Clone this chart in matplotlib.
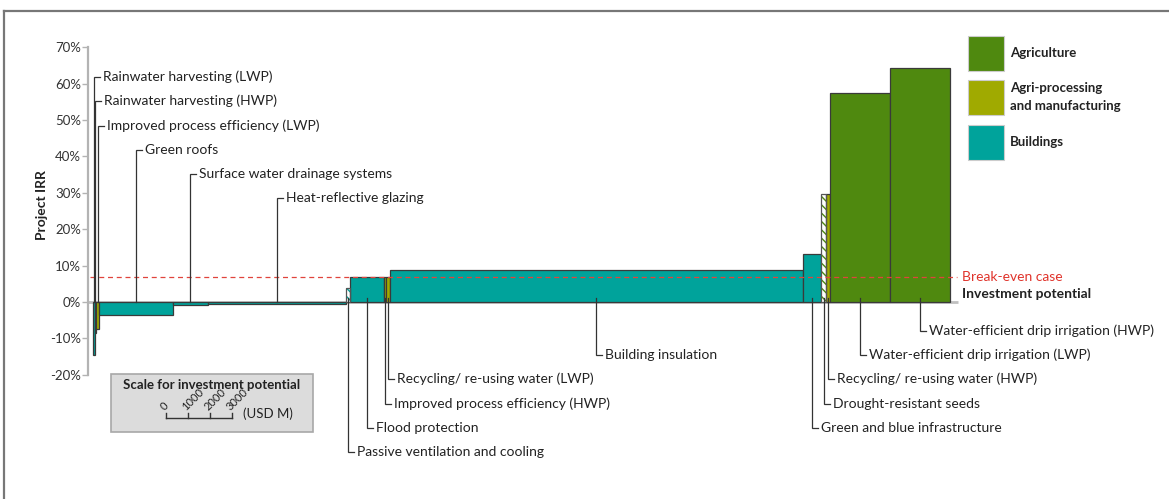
import numpy as np
import matplotlib
matplotlib.use('Agg')
import matplotlib.pyplot as plt
from matplotlib.patches import Rectangle
from matplotlib.lines import Line2D

plt.rcParams['font.family'] = ['Lato', 'DejaVu Sans']

# ------------------------------------------------------------
# Data
# ------------------------------------------------------------
measures = ['Rainwater harvesting (LWP)', 'Rainwater harvesting (HWP)',
            'Improved process efficiency (LWP)', 'Green roofs',
            'Surface water drainage systems', 'Heat-reflective glazing',
            'Passive ventilation and cooling', 'Flood protection',
            'Improved process efficiency (HWP)', 'Recycling/ re-using water (LWP)',
            'Building insulation', 'Green and blue infrastructure',
            'Drought-resistant seeds', 'Recycling/ re-using water (HWP)',
            'Water-efficient drip irrigation (LWP)', 'Water-efficient drip irrigation (HWP)']
invest = [70, 70, 130, 3350, 1600, 6270, 210, 1510, 115, 160,
          18770, 850, 210, 180, 2730, 2745]          # USD M
irr = [-14.5, -8.5, -7.5, -3.5, -0.9, -0.5, 3.8, 6.8, 6.8, 6.8,
       8.7, 13.2, 29.7, 29.7, 57.5, 64.3]            # %
sector = ['Buildings', 'Buildings', 'Agri', 'Buildings', 'Buildings', 'Buildings',
          'Buildings', 'Buildings', 'Agri', 'Agri', 'Buildings', 'Buildings',
          'Agriculture', 'Agri', 'Agriculture', 'Agriculture']
hatched = [False] * 6 + [True] + [False] * 5 + [True] + [False] * 3
label_y = [61.8, 55.2, 48.4, 41.8, 35.2, 28.6, -41.2, -34.6, -28.0, -21.2,
           -14.6, -34.6, -28.0, -21.2, -14.6, -8.0]

break_even = 7.0
y_ticks = [-20, -10, 0, 10, 20, 30, 40, 50, 60, 70]
scale_ticks = [0, 1000, 2000, 3000]

colors = {'Agriculture': '#4f890f', 'Agri': '#a0aa00', 'Buildings': '#00a39b'}
legend_names = [('Agriculture', 'Agriculture'),
                ('Agri', 'Agri-processing\nand manufacturing'),
                ('Buildings', 'Buildings')]

# pixel helpers: 22 px per 1000 USD M, first bar at x=93 px, 0% at y=302 px
W, H = 1169, 499
k = 1000 / 22.0
px_per_pct = 3.64

fig = plt.figure(figsize=(W / 100, H / 100), dpi=100)
ax_left, ax_right = 20, 1160
y_lo, y_hi = -45, 75
ax = fig.add_axes([ax_left / W, (H - (302 - y_lo * px_per_pct)) / H,
                   (ax_right - ax_left) / W, (y_hi - y_lo) * px_per_pct / H])
ax.set_xlim((ax_left - 93) * k, (ax_right - 93) * k)
ax.set_ylim(y_lo, y_hi)
for s in ['top', 'right', 'bottom']:
    ax.spines[s].set_visible(False)
ax.spines['left'].set_position(('data', (88 - 93) * k))
ax.spines['left'].set_bounds(-20, 70)
ax.spines['left'].set_color('#b3b3b3')
ax.spines['left'].set_linewidth(1.6)
ax.set_xticks([])
ax.set_yticks(y_ticks)
ax.set_yticklabels([f'{t}%' for t in y_ticks], fontsize=9.5, color='#333333')
ax.tick_params(axis='y', length=4, width=1, color='#b3b3b3', pad=1)
ax.patch.set_alpha(0)

fig.text(42 / W, 1 - 205 / H, 'Project IRR', rotation=90, ha='center', va='center',
         fontsize=10, fontweight='bold', color='#222222')

# baseline
x_end = sum(invest)
ax.plot([(88 - 93) * k, x_end + 8 * k], [0, 0], color='#c0c0c0', lw=2, zorder=1,
        solid_capstyle='butt')

# bars
lefts = np.concatenate([[0], np.cumsum(invest)[:-1]])
for i in range(len(measures)):
    c = colors[sector[i]]
    if hatched[i]:
        ax.bar(lefts[i], irr[i], width=invest[i], align='edge', color='white',
               edgecolor=c, hatch='\\\\\\\\', lw=0, zorder=2)
        ax.bar(lefts[i], irr[i], width=invest[i], align='edge', fill=False,
               edgecolor='#555555', lw=0.9, zorder=3)
    else:
        ax.bar(lefts[i], irr[i], width=invest[i], align='edge', color=c,
               edgecolor='#3a3a3a', lw=0.9, zorder=2)

# break-even line
ax.plot([(90 - 93) * k, (957 - 93) * k], [break_even, break_even], color='#e0443c',
        lw=0.9, ls=(0, (4, 3)), zorder=4)
ax.text((962 - 93) * k, break_even, 'Break-even case', color='#e0332b', fontsize=10,
        va='center', ha='left')
ax.text((962 - 93) * k, 2.3, 'Investment potential', color='#222222', fontsize=10,
        fontweight='bold', va='center', ha='left')

# leader labels
stub = 6 * k
for i, name in enumerate(measures):
    xc = lefts[i] + invest[i] / 2
    y0 = 0 if irr[i] < 0 else 1.0
    ax.plot([xc, xc, xc + stub], [y0, label_y[i], label_y[i]], color='#333333',
            lw=0.9, zorder=5, solid_joinstyle='miter')
    ax.text(xc + 9 * k, label_y[i], name, fontsize=10, va='center', ha='left',
            color='#222222')

# scale box
bx0, bx1 = (111 - 93) * k, (313 - 93) * k
by0, by1 = (302 - 432) / px_per_pct, (302 - 374) / px_per_pct
ax.add_patch(Rectangle((bx0, by0), bx1 - bx0, by1 - by0, facecolor='#dcdcdc',
                       edgecolor='#a8a8a8', lw=1.2, zorder=2))
ax.text((bx0 + bx1) / 2, (302 - 385) / px_per_pct, 'Scale for investment potential',
        ha='center', va='center', fontsize=9.5, fontweight='bold', color='#222222')
s0 = (166 - 93) * k
sy = (302 - 418) / px_per_pct
ax.plot([s0 + scale_ticks[0], s0 + scale_ticks[-1]], [sy, sy], color='#333333', lw=1, zorder=3)
for t in scale_ticks:
    ax.plot([s0 + t, s0 + t], [sy, sy + 1.4], color='#333333', lw=1, zorder=3)
    ax.text(s0 + t - 20, sy + 1.5, f'{t}', rotation=45, ha='left', va='bottom',
            fontsize=8, color='#222222', rotation_mode='anchor')
ax.text(s0 + scale_ticks[-1] + 500, sy + 1.3, '(USD M)', ha='left', va='center',
        fontsize=9.5, color='#222222')

# legend
leg_y = [36, 80, 125]
for (key, txt), ly in zip(legend_names, leg_y):
    fig.add_artist(Rectangle((968 / W, 1 - (ly + 35) / H), 36 / W, 35 / H,
                             transform=fig.transFigure, facecolor=colors[key],
                             edgecolor='#cccccc', lw=0.8))
    fig.text(1010 / W, 1 - (ly + 17) / H, txt, ha='left', va='center', fontsize=9.5,
             fontweight='bold', color='#222222', linespacing=1.5)

# outer frame
fig.add_artist(Line2D([4 / W, 1], [1 - 11 / H, 1 - 11 / H], transform=fig.transFigure,
                      color='#777777', lw=1.6))
fig.add_artist(Line2D([4 / W, 4 / W], [0, 1 - 11 / H], transform=fig.transFigure,
                      color='#777777', lw=1.6))

plt.savefig('out.png', dpi=100)
